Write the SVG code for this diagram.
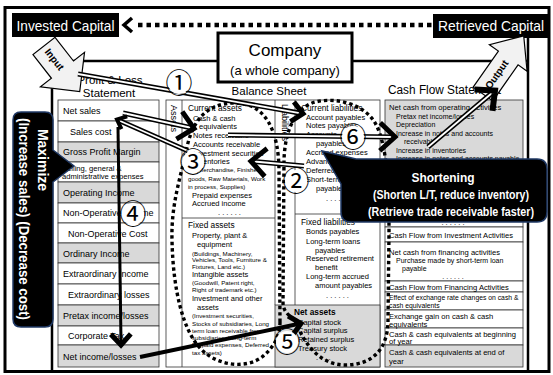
<svg xmlns="http://www.w3.org/2000/svg" width="553" height="375" viewBox="0 0 553 375">
<defs>
<style>
text{font-family:"Liberation Sans",Arial,sans-serif;fill:#000}
.pl{font-size:9px}
.pls{font-size:7.6px}
.h{font-size:8.3px}
.bs{font-size:7.5px}
.sm{font-size:6.2px}
.cf{font-size:7px}
.cfh{font-size:7.6px}
.cfs{font-size:6.8px}
.ttl{font-size:11.5px}
.wb{fill:#fff;font-weight:bold}
.row{fill:#fff;stroke:#333;stroke-width:0.8}
.gr{fill:#d9d9d9;stroke:#333;stroke-width:0.8}
.ln{fill:none;stroke:#333;stroke-width:0.8}
.frame{fill:none;stroke:#000;stroke-width:3}
.inner{fill:none;stroke:#000;stroke-width:2.5}
.dlo{fill:none;stroke:#000;stroke-width:5}
.dli{fill:none;stroke:#fff;stroke-width:1.8}
.ch{fill:none;stroke:#000;stroke-width:5;stroke-linejoin:miter;stroke-miterlimit:10}
.ch4{fill:none;stroke:#000;stroke-width:4;stroke-linejoin:miter;stroke-miterlimit:10}
.ch6{fill:none;stroke:#000;stroke-width:6;stroke-linejoin:miter;stroke-miterlimit:10}
.ch3{fill:none;stroke:#000;stroke-width:3.5;stroke-linejoin:miter;stroke-miterlimit:10}
.sl3{fill:none;stroke:#000;stroke-width:3}
.sl4{fill:none;stroke:#000;stroke-width:4}
.dot{fill:none;stroke:#000;stroke-width:3.4;stroke-dasharray:3.4 3}
.dotT{fill:none;stroke:#000;stroke-width:4.5;stroke-dasharray:4.5 4}
.num{font-family:"Noto Sans CJK JP","DejaVu Sans",sans-serif;font-size:27px;text-anchor:middle}
.nbg{fill:#fff}
.bub{fill:#000;stroke:#1f3864;stroke-width:1.5}
.arr{fill:#f2f2f2;stroke:#000;stroke-width:1.2}
</style>
<path id="chL" d="M-15,-14 L0,0 L-15,14"/>
<path id="chM" d="M-11,-10 L0,0 L-11,10"/>
<path id="chS" d="M-8,-7 L0,0 L-8,7"/>
<path id="p1" d="M78,74 L301,113.3"/>
<path id="p3a" d="M123,113 L192,128"/>
<path id="p3b" d="M188,151 L119,120.5"/>
<path id="p2" d="M304,166 L253,161.4"/>
<path id="p6" d="M228,135 L393,137"/>
<path id="p7" d="M428,147 L492,93"/>
</defs>

<g id="frame">
<rect class="frame" x="5" y="7.5" width="544" height="364"/>
<path class="inner" d="M70,61 H218 M352,61 H528 M528,38 V372 M52,84 V372"/>
</g>

<g id="invested-capital">
<rect x="12" y="13" width="107" height="24" fill="#000"/>
<text x="65.5" y="30.5" font-size="14" style="fill:#fff" text-anchor="middle" textLength="98" lengthAdjust="spacingAndGlyphs">Invested Capital</text>
</g>
<g id="retrieved-capital">
<rect x="433" y="14" width="116" height="24" fill="#000"/>
<text x="491" y="31" font-size="14" style="fill:#fff" text-anchor="middle" textLength="106" lengthAdjust="spacingAndGlyphs">Retrieved Capital</text>
</g>

<g id="company">
<rect x="218" y="33" width="134" height="49" fill="#fff" stroke="#000" stroke-width="3"/>
<text x="285" y="56" font-size="17" text-anchor="middle">Company</text>
<text x="285" y="75" font-size="13" text-anchor="middle">(a whole company)</text>
</g>

<g id="titles">
<text class="ttl" x="110" y="84" text-anchor="middle">Profit &amp; Loss</text>
<text class="ttl" x="109" y="97" text-anchor="middle">Statement</text>
<text class="ttl" x="269" y="95" text-anchor="middle">Balance Sheet</text>
<text x="388" y="94" font-size="12" textLength="113" lengthAdjust="spacingAndGlyphs">Cash Flow Statement</text>
</g>

<g id="pl-statement">
<rect class="row" x="58" y="100" width="101" height="21"/>
<rect class="row" x="58" y="121" width="101" height="21"/>
<rect class="gr" x="58" y="142" width="101" height="20"/>
<rect class="row" x="58" y="162" width="101" height="20"/>
<rect class="gr" x="58" y="182" width="101" height="21"/>
<rect class="row" x="58" y="203" width="101" height="20"/>
<rect class="row" x="58" y="223" width="101" height="20"/>
<rect class="gr" x="58" y="243" width="101" height="20"/>
<rect class="row" x="58" y="263" width="101" height="21"/>
<rect class="row" x="58" y="284" width="101" height="21"/>
<rect class="gr" x="58" y="305" width="101" height="21"/>
<rect class="row" x="58" y="326" width="101" height="19"/>
<rect class="gr" x="58" y="345" width="101" height="22"/>
<text class="pl" x="63" y="114">Net sales</text>
<text class="pl" x="70" y="135">Sales cost</text>
<text class="pl" x="63" y="155">Gross Profit Margin</text>
<text class="pls" x="62" y="170.5">Selling, general &amp;</text>
<text class="pls" x="62" y="178.5">administrative expenses</text>
<text class="pl" x="63" y="196">Operating Income</text>
<text class="pl" x="63" y="216">Non-Operative Income</text>
<text class="pl" x="68" y="236.5">Non-Operative Cost</text>
<text class="pl" x="63" y="257">Ordinary Income</text>
<text class="pl" x="63" y="277">Extraordinary Income</text>
<text class="pl" x="68" y="298">Extraordinary losses</text>
<text class="pl" x="63" y="318.5">Pretax income/losses</text>
<text class="pl" x="68" y="339">Corporate Tax</text>
<text class="pl" x="63" y="359.5">Net income/losses</text>
</g>

<g id="balance-sheet">
<rect class="row" x="166" y="100" width="214" height="267"/>
<path class="ln" d="M182,100 V367 M275,100 V305 M295,100 V305 M182,218 H275 M295,214 H380"/>
<rect class="gr" x="275" y="305" width="105" height="62"/>
<text font-size="9" transform="translate(171,105) rotate(90)">Assets</text>
<text font-size="9" transform="translate(282,104) rotate(90)">Liabilities</text>
<text class="h" x="188" y="111">Current assets</text>
<text class="bs" x="193" y="120.5">Cash &amp; cash</text>
<text class="bs" x="199" y="129">equivalents</text>
<text class="bs" x="193" y="137.5">Notes receivable</text>
<text class="bs" x="193" y="146.5">Accounts receivable</text>
<text class="bs" x="193" y="155.5">Investment securities</text>
<text class="bs" x="193" y="164">Inventories</text>
<text class="sm" x="196" y="172">(Merchandise, Finished</text>
<text class="sm" x="188" y="180.5">goods, Raw Materials, Work</text>
<text class="sm" x="188" y="189">in process, Supplies)</text>
<text class="bs" x="192" y="197.5">Prepaid expenses</text>
<text class="bs" x="192" y="206">Accrued income</text>
<text class="bs" x="218" y="214.5">. . . . . .</text>
<text class="h" x="188" y="228">Fixed assets</text>
<text class="bs" x="192" y="237.5">Property, plant &amp;</text>
<text class="bs" x="197" y="247">equipment</text>
<text class="sm" x="192" y="255.5">(Buildings, Machinery,</text>
<text class="sm" x="192" y="262">Vehicles, Tools, Furniture &amp;</text>
<text class="sm" x="192" y="268.5">Fixtures, Land etc.)</text>
<text class="bs" x="192" y="277">Intangible assets</text>
<text class="sm" x="192" y="285">(Goodwill, Patent right,</text>
<text class="sm" x="192" y="292">Right of trademark etc.)</text>
<text class="bs" x="192" y="300.5">Investment and other</text>
<text class="bs" x="197" y="309.5">assets</text>
<text class="sm" x="192" y="318">(Investment securities,</text>
<text class="sm" x="192" y="325.5">Stocks of subsidiaries, Long</text>
<text class="sm" x="192" y="332.5">term loan receivable from</text>
<text class="sm" x="192" y="339.5">subsidiaries, Long-term</text>
<text class="sm" x="192" y="347">Prepaid expenses, Deferred</text>
<text class="sm" x="192" y="354.5">tax assets)</text>
<text class="h" x="301" y="111">Current liabilities</text>
<text class="bs" x="306" y="119.5">Account payables</text>
<text class="bs" x="306" y="128">Notes payables</text>
<text class="bs" x="306" y="137">Accounts</text>
<text class="bs" x="316" y="146">payables</text>
<text class="bs" x="306" y="154.5">Accrued expenses</text>
<text class="bs" x="306" y="164">Advances received</text>
<text class="bs" x="306" y="172.5">Deferred income</text>
<text class="bs" x="306" y="181.5">Short-term accrued</text>
<text class="bs" x="316" y="190.5">payables</text>
<text class="bs" x="326" y="201">. . . . . .</text>
<text class="h" x="301" y="224.5">Fixed liabilities</text>
<text class="bs" x="306" y="234">Bonds payables</text>
<text class="bs" x="306" y="243.5">Long-term loans</text>
<text class="bs" x="315" y="252.5">payables</text>
<text class="bs" x="306" y="261">Reserved retirement</text>
<text class="bs" x="315" y="270">benefit</text>
<text class="bs" x="306" y="278.5">Long-term accrued</text>
<text class="bs" x="315" y="287.5">amount payables</text>
<text class="bs" x="326" y="298">. . . . . .</text>
<text class="h" x="294" y="315" font-weight="bold">Net assets</text>
<text class="bs" x="298" y="324.5">Capital stock</text>
<text class="bs" x="298" y="333">Capital surplus</text>
<text class="bs" x="298" y="342">Retained surplus</text>
<text class="bs" x="298" y="350.5">Treasury stock</text>
<text class="bs" x="316" y="360">. . . .</text>
</g>

<g id="cash-flow">
<rect class="gr" x="385" y="100" width="138" height="90"/>
<rect class="row" x="385" y="190" width="138" height="37"/>
<rect class="row" x="385" y="227" width="138" height="15"/>
<rect class="row" x="385" y="242" width="138" height="39"/>
<rect class="row" x="385" y="281" width="138" height="11"/>
<rect class="row" x="385" y="292" width="138" height="18"/>
<rect class="row" x="385" y="310" width="138" height="18"/>
<rect class="row" x="385" y="328" width="138" height="17"/>
<rect class="gr" x="385" y="345" width="138" height="22"/>
<text class="cfh" x="389" y="110">Net cash from operating activities</text>
<text class="cf" x="396" y="118.5">Pretax net income/losses</text>
<text class="cf" x="396" y="127">Depreciation</text>
<text class="cf" x="396" y="135.5">Increase in notes and accounts</text>
<text class="cf" x="404" y="144">receivable</text>
<text class="cf" x="396" y="152.5">Increase in inventories</text>
<text class="cf" x="396" y="161">Increase in notes and accounts payable</text>
<text class="cfh" x="453" y="225" text-anchor="middle">. . . . . .</text>
<text class="cfh" x="389" y="237.5">Cash Flow from Investment Activities</text>
<text class="cfh" x="389" y="255">Net cash from financing activities</text>
<text class="cf" x="396" y="263">Purchase made by short-term loan</text>
<text class="cf" x="402" y="271">payable</text>
<text class="cf" x="453" y="278.5" text-anchor="middle">. . . . . .</text>
<text class="cfh" x="389" y="289.5">Cash Flow from Financing Activities</text>
<text class="cfs" x="389" y="300">Effect of exchange rate changes on cash &amp;</text>
<text class="cfs" x="389" y="307.5">cash equivalents</text>
<text class="cfh" x="389" y="319">Exchange gain on cash &amp; cash</text>
<text class="cfh" x="389" y="326.5">equivalents</text>
<text class="cfh" x="389" y="336.5">Cash &amp; cash equivalents at beginning</text>
<text class="cfh" x="389" y="344">of year</text>
<text class="cfh" x="389" y="354.5">Cash &amp; cash equivalents at end of</text>
<text class="cfh" x="389" y="363.5">year</text>
</g>

<g id="input-arrow" transform="translate(44,46) rotate(52)">
<path class="arr" d="M0,-14 H30 V-28 L58,0 L30,28 V14 H0 Z"/>
<text x="17" y="3.5" font-size="10" font-weight="bold" text-anchor="middle">Input</text>
</g>
<g id="output-arrow" transform="translate(483,94) rotate(-55)">
<path class="arr" d="M0,-12 H44 V-23 L71,0 L44,23 V12 H0 Z"/>
<text x="24" y="3.5" font-size="10" font-weight="bold" text-anchor="middle">Output</text>
</g>

<g id="connectors">
<path class="dot" d="M280,322 L279,172 C279,130 265,103 235,103 C207,103 193,120 187,147 C180,180 171,205 172,240 C173,290 183,330 200,348 C215,365 245,370 262,357 C272,349 280,338 280,322 Z"/>
<path class="dot" d="M295,320 C305,347 322,365 345,365 C372,365 388,350 388,320 L389,232 C389,170 385,132 370,116 C355,101 330,97 312,103 C295,110 285,130 284,160 L283,302 C283,311 288,315 295,320 Z"/>
<path class="dotT" d="M138,25 H432"/>
<use href="#chS" class="ch3" transform="translate(124,25) rotate(180)"/>

<use href="#p1" class="dlo"/><use href="#p1" class="dli"/>
<use href="#chM" class="ch" transform="translate(303,113.7) rotate(10)"/>

<use href="#p3a" class="dlo"/><use href="#p3a" class="dli"/>
<use href="#chL" class="ch" transform="translate(194,128.5) rotate(12)"/>

<use href="#p3b" class="dlo"/><use href="#p3b" class="dli"/>
<use href="#chS" class="ch4" transform="translate(117,119.5) rotate(204)"/>

<path class="sl3" d="M118,127 L121,342"/>
<use href="#chM" class="ch" transform="translate(121,345) rotate(89)"/>

<use href="#p2" class="dlo"/><use href="#p2" class="dli"/>
<use href="#chL" class="ch" transform="translate(251,161.2) rotate(185)"/>

<use href="#p6" class="dlo"/><use href="#p6" class="dli"/>
<use href="#chL" class="ch" transform="translate(395,137) rotate(1)"/>

<use href="#p7" class="dlo"/><use href="#p7" class="dli"/>
<use href="#chL" class="ch6" transform="translate(495,90.5) rotate(-40)"/>

<path class="sl4" d="M140,357 L298,324"/>
<use href="#chM" class="ch" transform="translate(301,323.5) rotate(-12)"/>
</g>

<g id="numbers">
<circle class="nbg" cx="179" cy="83" r="11"/><text class="num" x="179" y="92.5">①</text>
<circle class="nbg" cx="296" cy="181" r="11"/><text class="num" x="296" y="190.5">②</text>
<circle class="nbg" cx="193" cy="162" r="11"/><text class="num" x="193" y="171.5">③</text>
<circle class="nbg" cx="133" cy="214" r="11"/><text class="num" x="133" y="223.5">④</text>
<circle class="nbg" cx="287" cy="342" r="11"/><text class="num" x="287" y="351.5">⑤</text>
<circle class="nbg" cx="353" cy="137" r="11"/><text class="num" x="353" y="146.5">⑥</text>
</g>

<g id="maximize-callout">
<path class="bub" d="M21,112 H45 Q53,112 53,120 V150 L74,166 L53,182 V319 Q53,327 45,327 H21 Q13,327 13,319 V120 Q13,112 21,112 Z"/>
<text class="wb" font-size="14" text-anchor="middle" transform="translate(38,160) rotate(90)">Maximize</text>
<text class="wb" font-size="14" text-anchor="middle" textLength="202" lengthAdjust="spacingAndGlyphs" transform="translate(19,219) rotate(90)">(Increase sales) (Decrease cost)</text>
</g>

<g id="shortening-callout">
<path class="bub" d="M356,159 H537 Q547,159 547,169 V212 Q547,222 537,222 H351 Q341,222 341,212 V184 L322,151 Z"/>
<text class="wb" x="443" y="182" font-size="13" text-anchor="middle" textLength="63" lengthAdjust="spacingAndGlyphs">Shortening</text>
<text class="wb" x="451" y="199" font-size="12" text-anchor="middle" textLength="156" lengthAdjust="spacingAndGlyphs">(Shorten L/T, reduce inventory)</text>
<text class="wb" x="451" y="215.5" font-size="12" text-anchor="middle" textLength="166" lengthAdjust="spacingAndGlyphs">(Retrieve trade receivable faster)</text>
</g>
</svg>
